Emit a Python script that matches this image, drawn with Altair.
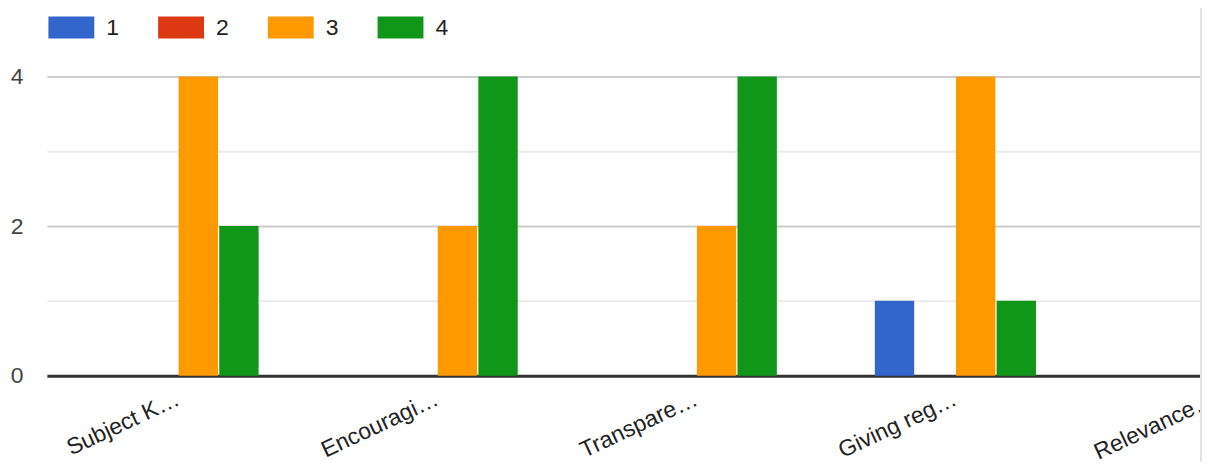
import altair as alt
import pandas as pd

categories = ["Subject K…", "Encouragi…", "Transpare…", "Giving reg…", "Relevance…"]
series_names = ["1", "2", "3", "4"]
series_1 = [0, 0, 0, 1, 0]
series_2 = [0, 0, 0, 0, 0]
series_3 = [4, 2, 2, 4, 0]
series_4 = [2, 4, 4, 1, 0]
colors = ["#3366cc", "#dc3912", "#ff9900", "#109618"]
y_ticks = [0, 1, 2, 3, 4, 5]

rows = []
for name, vals in zip(series_names, [series_1, series_2, series_3, series_4]):
    for c, v in zip(categories, vals):
        rows.append({"category": c, "series": name, "count": v})
df = pd.DataFrame(rows)

FONT = "Liberation Sans"

bars = alt.Chart(df).mark_bar().encode(
    x=alt.X(
        "category:N",
        sort=categories,
        scale=alt.Scale(range=[0, 1302], paddingInner=0.378, paddingOuter=0.195),
        axis=alt.Axis(
            title=None,
            labelAngle=335,
            labelAlign="right",
            labelBaseline="middle",
            labelPadding=22,
            labelFontSize=23,
            labelColor="#222222",
            labelFont=FONT,
            ticks=False,
            domain=True,
            domainColor="#333333",
            domainWidth=3,
            grid=False,
            labelOverlap=False,
            labelLimit=400,
        ),
    ),
    xOffset=alt.XOffset(
        "series:N",
        sort=series_names,
        scale=alt.Scale(paddingInner=0.03, paddingOuter=0),
    ),
    y=alt.Y(
        "count:Q",
        scale=alt.Scale(domain=[0, 5], nice=False, zero=True),
        axis=alt.Axis(
            title=None,
            values=y_ticks,
            labelExpr="datum.value % 2 == 0 ? datum.label : ''",
            labelFontSize=23,
            labelColor="#444444",
            labelFont=FONT,
            labelPadding=24,
            ticks=False,
            domain=False,
            grid=True,
            gridColor=alt.condition("datum.value % 2 == 0", alt.value("#cccccc"), alt.value("#ebebeb")),
            gridOpacity=alt.condition("datum.value == 0", alt.value(0), alt.value(1)),
            gridWidth=2,
        ),
    ),
    color=alt.Color(
        "series:N",
        sort=series_names,
        scale=alt.Scale(domain=series_names, range=colors),
        legend=alt.Legend(
            title=None,
            orient="none",
            legendX=1.5,
            legendY=3,
            direction="horizontal",
            columns=4,
            symbolType="M-1,-0.478H1V0.478H-1Z",
            symbolSize=2116,
            symbolStrokeWidth=0,
            symbolOpacity=1,
            labelFontSize=23,
            labelFont=FONT,
            labelColor="#222222",
            labelOffset=12,
            columnPadding=39,
            padding=0,
        ),
    ),
)

border = alt.Chart(alt.Data(values=[{}])).mark_rule(color="#e3e3e3", strokeWidth=2).encode(
    x=alt.value(1157),
    y=alt.value(-10),
    y2=alt.value(461),
)

chart = alt.layer(bars, border).properties(
    width=1158,
    height=375,
    autosize=alt.AutoSizeParams(type="none"),
    padding={"left": 39, "top": -7, "right": 0, "bottom": 92},
).configure_view(stroke=None)

chart.save("out.html", embed_options={"renderer": "svg", "actions": False})
